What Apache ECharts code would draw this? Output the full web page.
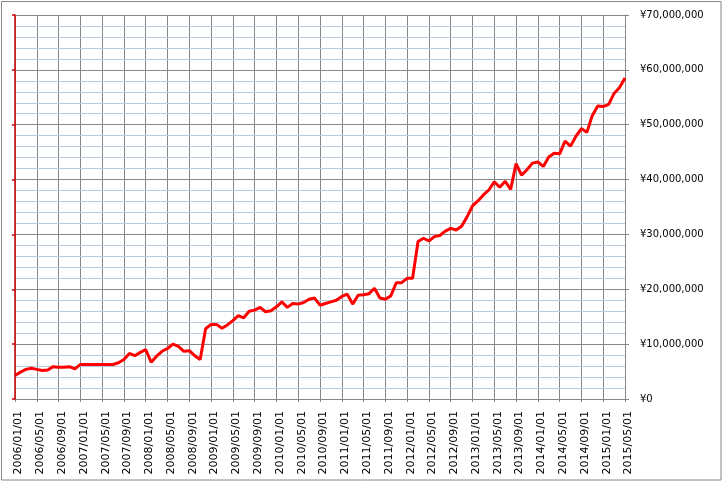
<!DOCTYPE html>
<html>
<head>
<meta charset="utf-8">
<script src="https://cdn.jsdelivr.net/npm/echarts@6/dist/echarts.min.js"></script>
<style>
html,body{margin:0;padding:0;background:#fff;}
#chart{width:723px;height:482px;}
</style>
</head>
<body>
<div id="chart"></div>
<script>
// Month categories 2006/01/01 .. 2015/05/01
var startYear = 2006, startMonth = 1, monthCount = 113;
var categories = [];
for (var k = 0; k < monthCount; k++) {
  var m = startMonth - 1 + k;
  var y = startYear + Math.floor(m / 12);
  var mm = (m % 12) + 1;
  categories.push(y + '/' + (mm < 10 ? '0' + mm : mm) + '/01');
}

// Values in millions of yen
var valuesMillion = [
  4.3, 4.9, 5.4, 5.6, 5.4, 5.2, 5.3, 5.9, 5.8, 5.8,
  5.9, 5.5, 6.3, 6.3, 6.3, 6.3, 6.3, 6.3, 6.3, 6.6,
  7.2, 8.3, 7.9, 8.5, 9.0, 6.7, 7.8, 8.7, 9.2, 10.0,
  9.6, 8.7, 8.8, 7.9, 7.2, 12.8, 13.6, 13.6, 12.9, 13.5,
  14.3, 15.2, 14.8, 16.0, 16.2, 16.7, 15.9, 16.1, 16.8, 17.7,
  16.7, 17.4, 17.3, 17.6, 18.2, 18.4, 17.1, 17.4, 17.7, 18.0,
  18.7, 19.1, 17.3, 18.9, 19.0, 19.2, 20.2, 18.4, 18.2, 18.8,
  21.2, 21.2, 22.0, 22.0, 28.7, 29.3, 28.8, 29.6, 29.8, 30.6,
  31.1, 30.8, 31.5, 33.2, 35.2, 36.1, 37.2, 38.1, 39.6, 38.6,
  39.7, 38.2, 42.9, 40.8, 41.8, 43.0, 43.2, 42.4, 44.1, 44.8,
  44.7, 47.0, 46.1, 47.9, 49.3, 48.6, 51.7, 53.4, 53.3, 53.7,
  55.7, 56.8, 58.5
];

var yMin = 0, yMax = 70, yInterval = 10;

function yenLabel(v) {
  return '\u00A5' + Math.round(v * 1000000).toLocaleString('en-US');
}

var chart = echarts.init(document.getElementById('chart'), null, {renderer: 'canvas'});
chart.setOption({
  animation: false,
  backgroundColor: '#ffffff',
  graphic: [{
    type: 'rect',
    shape: {x: 1.5, y: 1.5, width: 719.5, height: 478.5},
    style: {fill: 'none', stroke: '#868686', lineWidth: 1},
    silent: true,
    z: 100
  }],
  grid: {left: 15, right: 98, top: 15, bottom: 83, containLabel: false},
  xAxis: {
    type: 'category',
    data: categories,
    boundaryGap: false,
    z: 0,
    axisLine: {show: true, lineStyle: {color: '#868686', width: 1}},
    axisTick: {show: true, interval: 3, length: 3, lineStyle: {color: '#868686'}},
    axisLabel: {
      interval: 3,
      rotate: 90,
      margin: 12,
      fontFamily: 'DejaVu Sans',
      fontSize: 11,
      color: '#000',
      verticalAlign: 'top',
      lineHeight: 7
    },
    splitLine: {show: true, interval: 3, lineStyle: {color: '#868686', width: 1}}
  },
  yAxis: [{
    type: 'value',
    position: 'right',
    min: yMin, max: yMax, interval: yInterval,
    z: 1,
    axisLine: {show: true, lineStyle: {color: '#868686'}},
    axisTick: {show: true, length: 4, lineStyle: {color: '#868686'}},
    axisLabel: {
      margin: 15,
      fontFamily: 'DejaVu Sans',
      fontSize: 10,
      color: '#000',
      formatter: yenLabel
    },
    splitLine: {show: true, lineStyle: {color: '#868686', width: 1}},
    minorTick: {show: false, splitNumber: 5},
    minorSplitLine: {show: true, lineStyle: {color: '#bac8dc', width: 1}}
  }, {
    type: 'value',
    position: 'left',
    min: yMin, max: yMax, interval: yInterval,
    z: 20,
    axisLine: {show: true, lineStyle: {color: '#cc0000', width: 1.5}},
    axisTick: {show: true, length: 3, lineStyle: {color: '#cc0000', width: 1.5}},
    axisLabel: {show: false},
    splitLine: {show: false}
  }],
  series: [{
    type: 'line',
    data: valuesMillion,
    yAxisIndex: 0,
    showSymbol: false,
    symbol: 'none',
    lineStyle: {color: '#ff0000', width: 3},
    itemStyle: {color: '#ff0000'},
    z: 10
  }]
});
</script>
</body>
</html>
